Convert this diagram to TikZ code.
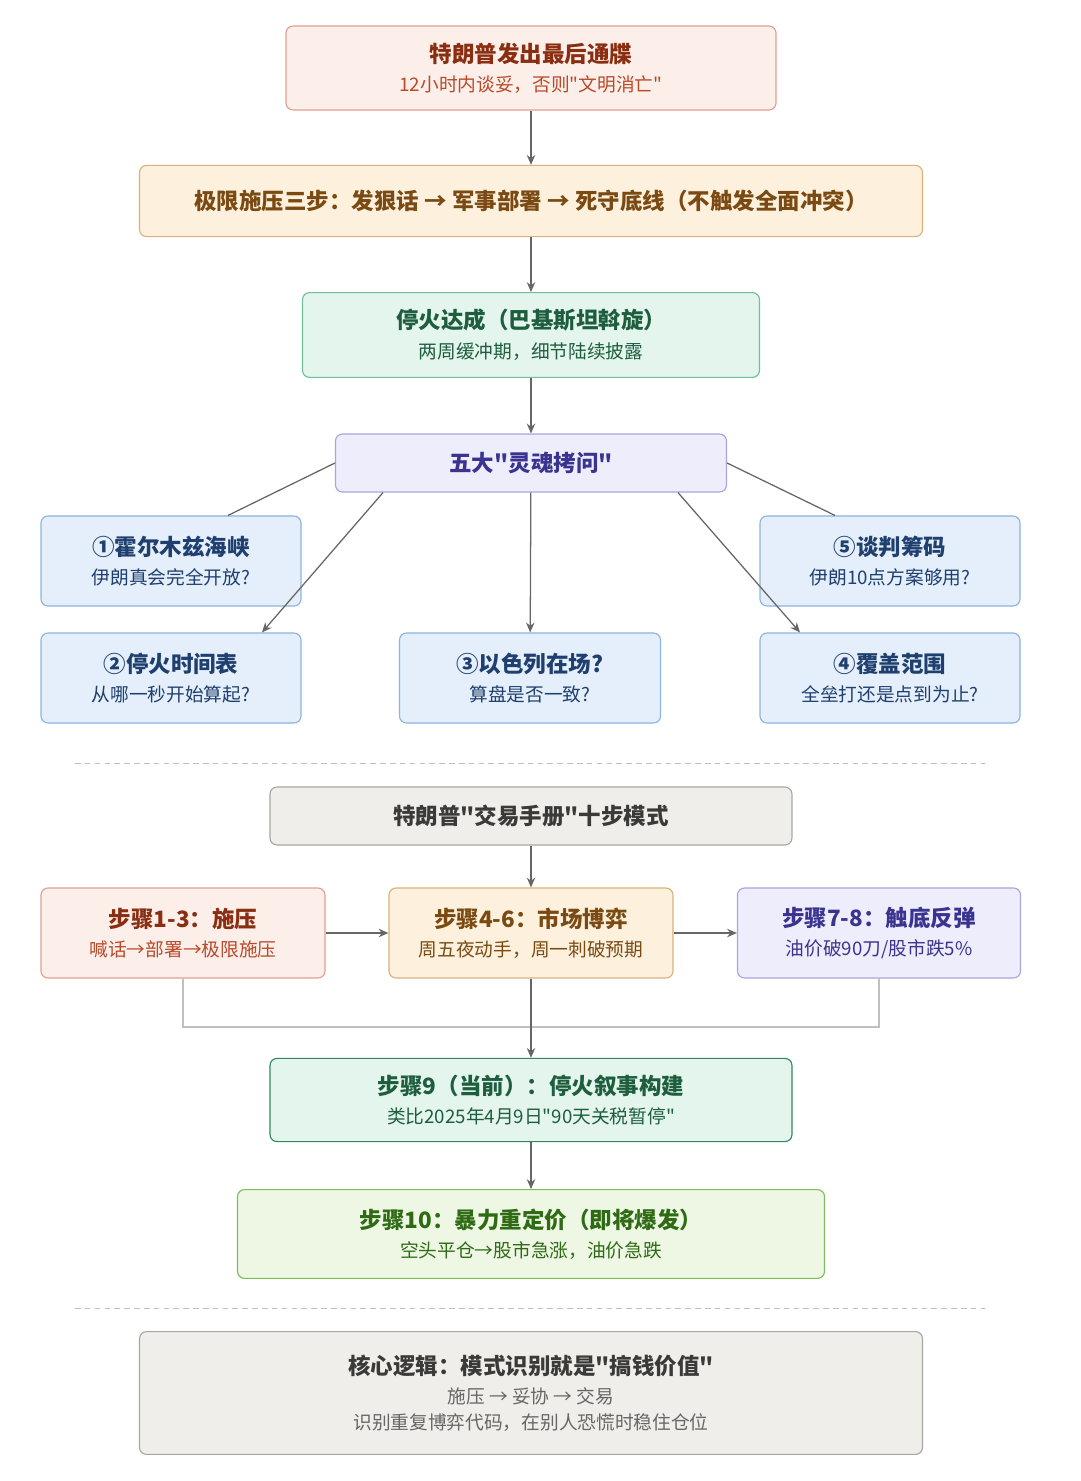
\documentclass[tikz,border=0pt]{standalone}
\usepackage{fontspec}
\setmainfont{Noto Sans CJK SC}
\newfontfamily\quotefont{Noto Sans CJK SC}
\usetikzlibrary{arrows.meta,positioning,calc}
\definecolor{redfill}{HTML}{FCEEE9}\definecolor{redline}{HTML}{E0A090}\definecolor{redtext}{HTML}{8A2E12}\definecolor{redsub}{HTML}{B84A2A}
\definecolor{orafill}{HTML}{FDF1DE}\definecolor{oraline}{HTML}{D9B27A}\definecolor{oratext}{HTML}{7A4A12}
\definecolor{grnfill}{HTML}{E3F5EC}\definecolor{grnline}{HTML}{6FBF98}\definecolor{grntext}{HTML}{1E5E3E}
\definecolor{purfill}{HTML}{EEEDFC}\definecolor{purline}{HTML}{A9A4E0}\definecolor{purtext}{HTML}{3A3490}
\definecolor{blufill}{HTML}{E4EFFB}\definecolor{bluline}{HTML}{8DB4DF}\definecolor{blutext}{HTML}{1F3F6E}
\definecolor{gryfill}{HTML}{EFEEEA}\definecolor{gryline}{HTML}{A8A8A2}\definecolor{grytext}{HTML}{3A3A38}
\definecolor{dkgfill}{HTML}{E3F5EC}\definecolor{dkgline}{HTML}{2E8A5E}
\definecolor{lgfill}{HTML}{EDF7E4}\definecolor{lgline}{HTML}{7CBF5A}\definecolor{lgtext}{HTML}{2F6A14}
\tikzset{
	box/.style args = {#1/#2/#3/#4}{draw=#2, fill=#1, text=#3, rounded corners=5pt, line width=0.8pt,
		minimum width=#4*0.025cm, align=center, inner sep=2pt},
	arr/.style={-{Stealth[length=7pt,width=6pt]}, draw=black!60, line width=0.9pt},
	lnk/.style={draw=black!60, line width=0.9pt},
	sep/.style={draw=black!25, dash pattern=on 4pt off 3pt, line width=0.6pt}
}
\newcommand{\qt}{{\quotefont\char"22}}
\newcommand{\hdfont}{\fontsize{16}{20}\selectfont\bfseries}
\newcommand{\subfont}{\fontsize{13.3}{17}\selectfont}
\newcommand{\twoline}[2]{{\hdfont #1}\\[7pt]{\subfont #2}}
\begin{document}
\begin{tikzpicture}[x=0.025cm,y=-0.025cm]
\useasboundingbox (0,0) rectangle (1080,1481);
% top part
\node[box=redfill/redline/redtext/490, minimum height=2.1cm] (ult) at (531,68) {\twoline{特朗普发出最后通牒}{\color{redsub}12小时内谈妥，否则\qt 文明消亡\qt}};
\node[box=orafill/oraline/oratext/783, minimum height=1.78cm, font=\hdfont] (press) at (531,201) {极限施压三步：发狠话 → 军事部署 → 死守底线（不触发全面冲突）};
\node[box=grnfill/grnline/grntext/457, minimum height=2.12cm] (cease) at (531,335) {\twoline{停火达成（巴基斯坦斡旋）}{两周缓冲期，细节陆续披露}};
\node[box=purfill/purline/purtext/391, minimum height=1.45cm, font=\hdfont] (soul) at (531,463) {五大\qt 灵魂拷问\qt};
\node[box=blufill/bluline/blutext/260, minimum height=2.25cm] (q1) at (171,561) {\twoline{①霍尔木兹海峡}{伊朗真会完全开放?}};
\node[box=blufill/bluline/blutext/260, minimum height=2.25cm] (q5) at (890,561) {\twoline{⑤谈判筹码}{伊朗10点方案够用?}};
\node[box=blufill/bluline/blutext/260, minimum height=2.25cm] (q2) at (171,678) {\twoline{②停火时间表}{从哪一秒开始算起?}};
\node[box=blufill/bluline/blutext/261, minimum height=2.25cm] (q3) at (530,678) {\twoline{③以色列在场?}{算盘是否一致?}};
\node[box=blufill/bluline/blutext/260, minimum height=2.25cm] (q4) at (890,678) {\twoline{④覆盖范围}{全垒打还是点到为止?}};
\draw[arr] (ult) -- (press);
\draw[arr] (press) -- (cease);
\draw[arr] (cease) -- (soul);
\draw[lnk] (soul.west) -- (q1.north -| 228,0);
\draw[lnk] (soul.east) -- (q5.north -| 835,0);
\draw[arr] (soul.south -| 383,0) -- (q2.north -| 262,0);
\draw[arr] (soul) -- (q3);
\draw[arr] (soul.south -| 678,0) -- (q4.north -| 800,0);
\draw[sep] (75,763) -- (985,763);
% trade playbook
\node[box=gryfill/gryline/grytext/522, minimum height=1.45cm, font=\hdfont] (book) at (531,816) {特朗普\qt 交易手册\qt 十步模式};
\node[box=redfill/redline/redtext/284, minimum height=2.25cm] (s1) at (183,933) {\twoline{步骤1-3：施压}{\color{redsub}喊话→部署→极限施压}};
\node[box=orafill/oraline/oratext/284, minimum height=2.25cm] (s4) at (531,933) {\twoline{步骤4-6：市场博弈}{周五夜动手，周一刺破预期}};
\node[box=purfill/purline/purtext/283, minimum height=2.25cm] (s7) at (879,933) {\twoline{步骤7-8：触底反弹}{油价破90刀/股市跌5\%}};
\node[box=dkgfill/dkgline/grntext/522, minimum height=2.08cm] (s9) at (531,1100) {\twoline{步骤9（当前）：停火叙事构建}{类比2025年4月9日\qt 90天关税暂停\qt}};
\node[box=lgfill/lgline/lgtext/587, minimum height=2.22cm] (s10) at (531,1234) {\twoline{步骤10：暴力重定价（即将爆发）}{空头平仓→股市急涨，油价急跌}};
\draw[arr] (book) -- (s4);
\draw[arr] (s1) -- (s4);
\draw[arr] (s4) -- (s7);
\draw[draw=black!25, line width=0.9pt] (s1.south) |- (531,1027) -| (s7.south);
\draw[arr] (s4) -- (s9);
\draw[arr] (s9) -- (s10);
\draw[sep] (75,1308) -- (985,1308);
\node[box=gryfill/gryline/grytext/783, minimum height=3.07cm] (core) at (531,1393) {{\hdfont 核心逻辑：模式识别就是\qt 搞钱价值\qt}\\[7pt]{\subfont\color{black!60}施压 → 妥协 → 交易}\\[5pt]{\subfont\color{black!60}识别重复博弈代码，在别人恐慌时稳住仓位}};
\end{tikzpicture}
\end{document}
